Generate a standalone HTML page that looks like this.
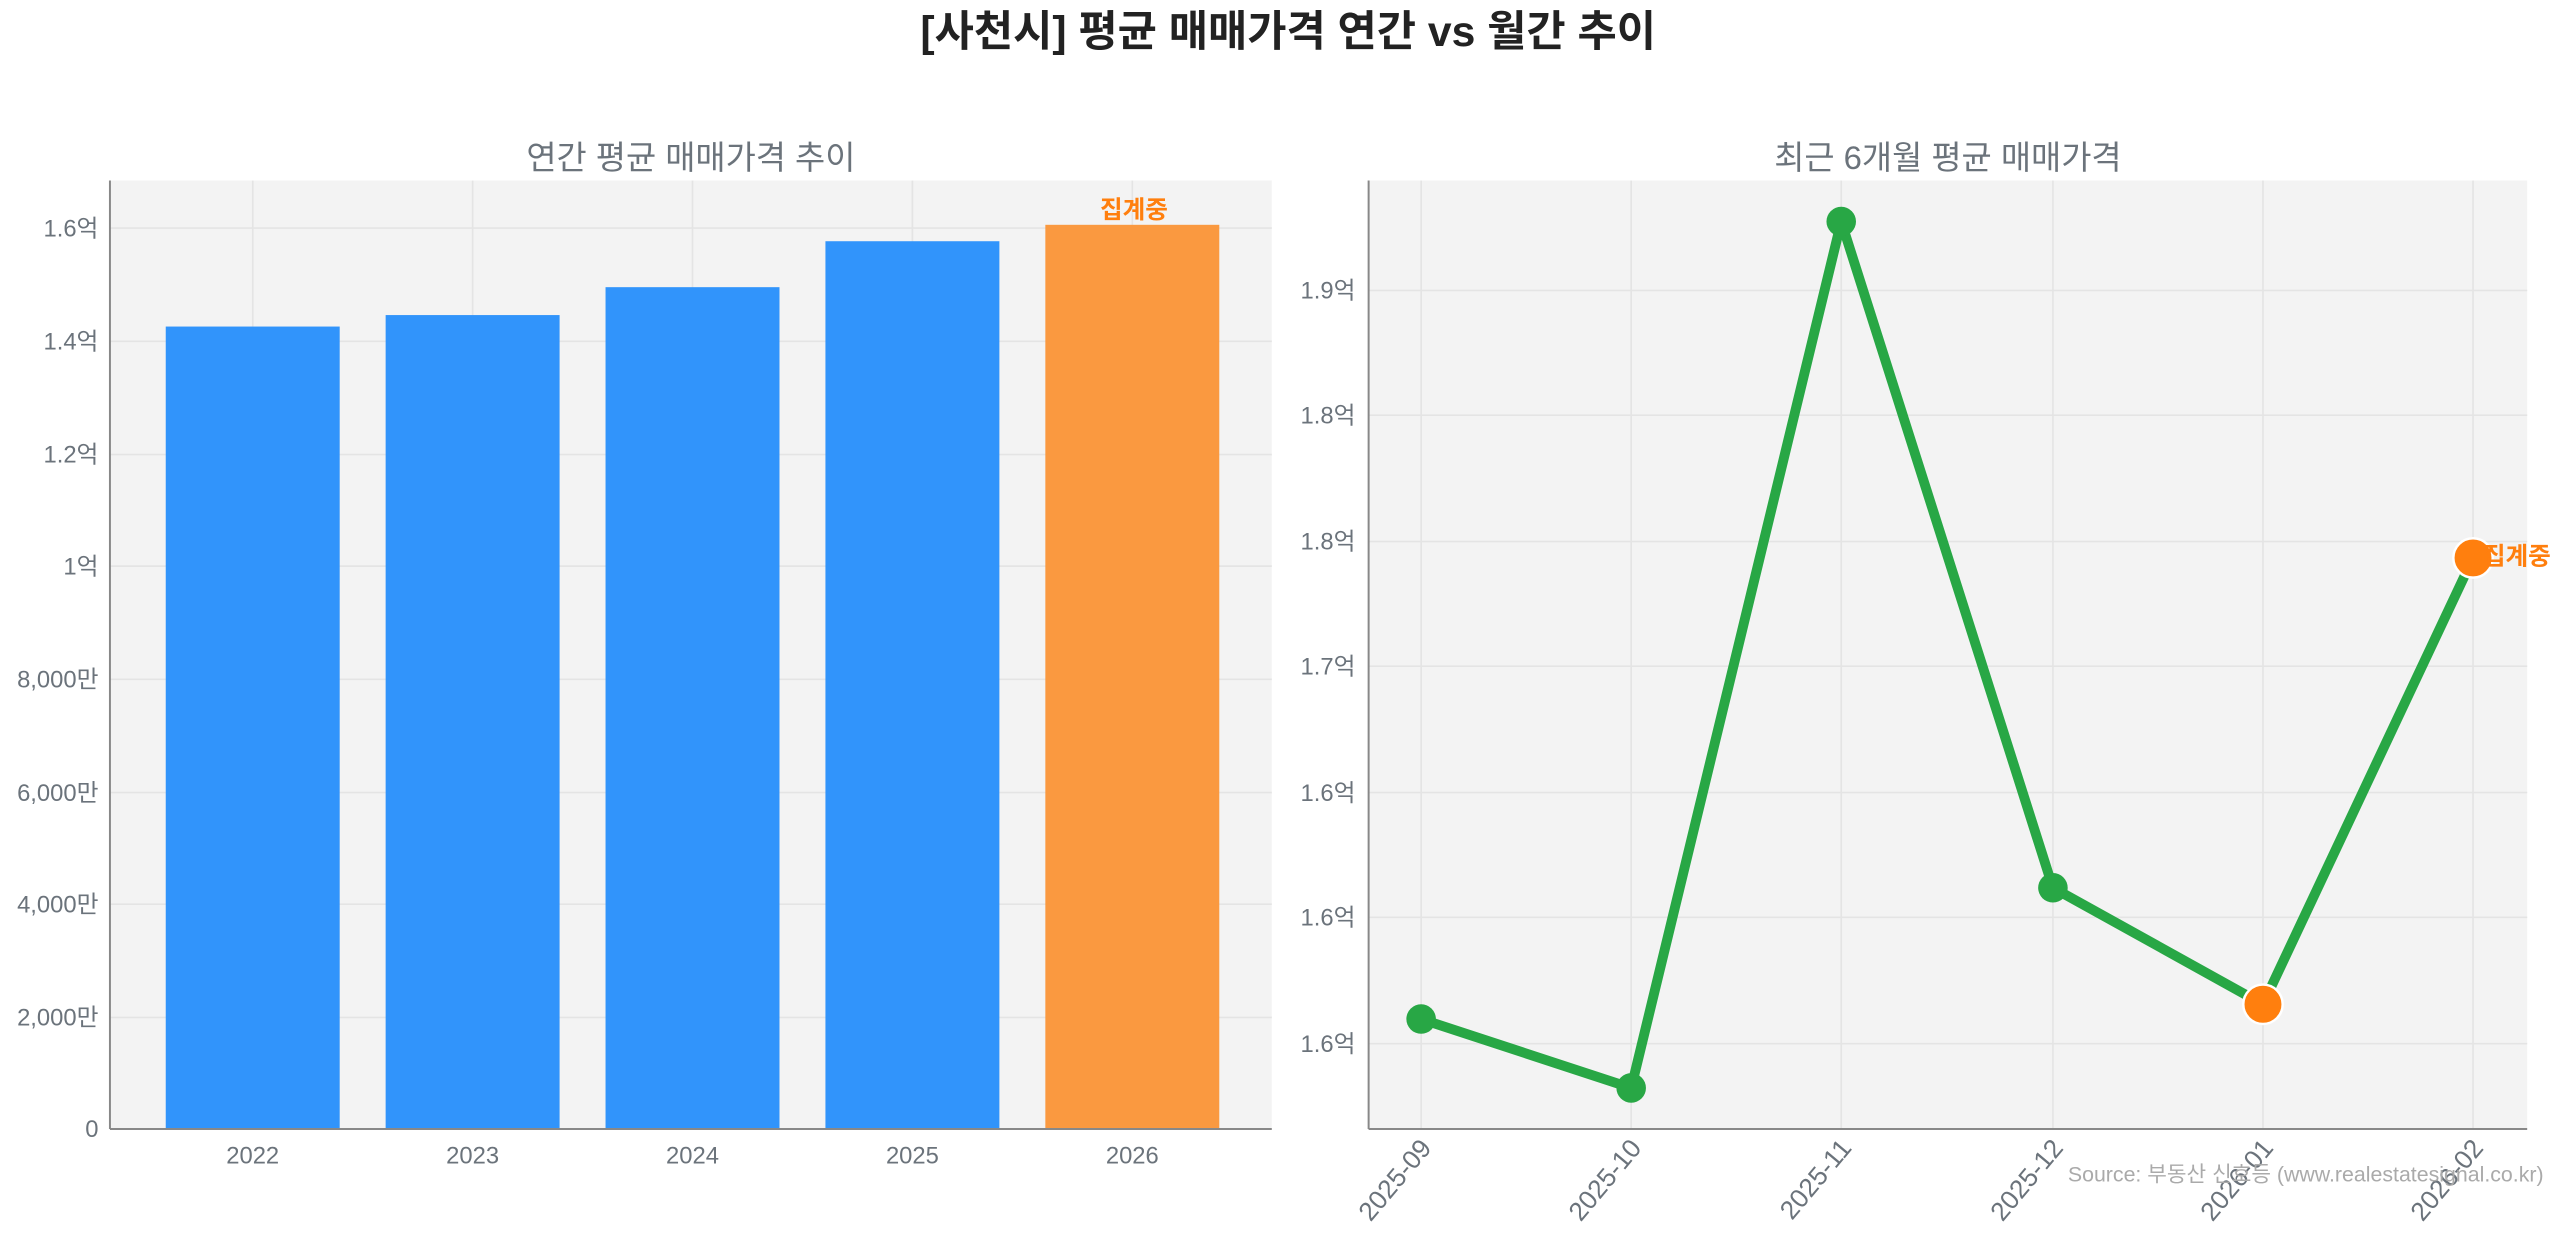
<!DOCTYPE html>
<html><head><meta charset="utf-8"><style>
html,body{margin:0;padding:0;background:#fff;width:2560px;height:1234px;overflow:hidden}
svg{display:block}
text{font-family:"Liberation Sans","Noto Sans CJK KR",sans-serif}
</style></head><body>
<svg width="2560" height="1234" viewBox="0 0 1560 752" preserveAspectRatio="none" xmlns="http://www.w3.org/2000/svg">
<text x="785" y="28" text-anchor="middle" font-size="26" font-weight="bold" fill="#222">[사천시] 평균 매매가격 연간 vs 월간 추이</text>
<!-- left -->
<text x="421" y="103" text-anchor="middle" font-size="20" fill="#6b737b">연간 평균 매매가격 추이</text>
<rect x="67" y="110" width="708" height="578" fill="#f3f3f3"/>
<g stroke="#e4e4e4" stroke-width="1">
<line x1="154" y1="110" x2="154" y2="688"/><line x1="288" y1="110" x2="288" y2="688"/><line x1="422" y1="110" x2="422" y2="688"/><line x1="556" y1="110" x2="556" y2="688"/><line x1="690" y1="110" x2="690" y2="688"/>
<line x1="67" y1="620" x2="775" y2="620"/><line x1="67" y1="551" x2="775" y2="551"/><line x1="67" y1="483" x2="775" y2="483"/><line x1="67" y1="414" x2="775" y2="414"/><line x1="67" y1="345" x2="775" y2="345"/><line x1="67" y1="277" x2="775" y2="277"/><line x1="67" y1="208" x2="775" y2="208"/><line x1="67" y1="139" x2="775" y2="139"/>
</g>
<g fill="#3194fb">
<rect x="101" y="199" width="106" height="489"/><rect x="235" y="192" width="106" height="496"/><rect x="369" y="175" width="106" height="513"/><rect x="503" y="147" width="106" height="541"/>
</g>
<rect x="637" y="137" width="106" height="551" fill="#fa9940"/>
<text x="691" y="133" text-anchor="middle" font-size="15" font-weight="bold" fill="#ff7f0e">집계중</text>
<line x1="67" y1="110" x2="67" y2="688" stroke="#888" stroke-width="1.2"/>
<line x1="67" y1="688" x2="775" y2="688" stroke="#888" stroke-width="1.2"/>
<g font-size="14.5" fill="#6b737b" text-anchor="end">
<text x="60" y="693">0</text><text x="60" y="625">2,000만</text><text x="60" y="556">4,000만</text><text x="60" y="488">6,000만</text><text x="60" y="419">8,000만</text><text x="60" y="350">1억</text><text x="60" y="282">1.2억</text><text x="60" y="213">1.4억</text><text x="60" y="144">1.6억</text>
</g>
<g font-size="14.5" fill="#6b737b" text-anchor="middle">
<text x="154" y="709">2022</text><text x="288" y="709">2023</text><text x="422" y="709">2024</text><text x="556" y="709">2025</text><text x="690" y="709">2026</text>
</g>
<!-- right -->
<text x="1187" y="103" text-anchor="middle" font-size="20" fill="#6b737b">최근 6개월 평균 매매가격</text>
<rect x="834" y="110" width="706" height="578" fill="#f3f3f3"/>
<g stroke="#e4e4e4" stroke-width="1">
<line x1="866" y1="110" x2="866" y2="688"/><line x1="994" y1="110" x2="994" y2="688"/><line x1="1122" y1="110" x2="1122" y2="688"/><line x1="1251" y1="110" x2="1251" y2="688"/><line x1="1379" y1="110" x2="1379" y2="688"/><line x1="1507" y1="110" x2="1507" y2="688"/>
<line x1="834" y1="177" x2="1540" y2="177"/><line x1="834" y1="253" x2="1540" y2="253"/><line x1="834" y1="330" x2="1540" y2="330"/><line x1="834" y1="406" x2="1540" y2="406"/><line x1="834" y1="483" x2="1540" y2="483"/><line x1="834" y1="559" x2="1540" y2="559"/><line x1="834" y1="636" x2="1540" y2="636"/>
</g>
<polyline points="866,621 994,663 1122,135 1251,541 1379,612 1507,340" fill="none" stroke="#28a745" stroke-width="6" stroke-linejoin="round"/>
<g fill="#28a745"><circle cx="866" cy="621" r="9"/><circle cx="994" cy="663" r="9"/><circle cx="1122" cy="135" r="9"/><circle cx="1251" cy="541" r="9"/></g>
<g fill="#ff7f0e" stroke="#fff" stroke-width="1.5"><circle cx="1379" cy="612" r="12"/><circle cx="1507" cy="340" r="12"/></g>
<text x="1513" y="344" font-size="15" font-weight="bold" fill="#ff7f0e">집계중</text>
<line x1="834" y1="110" x2="834" y2="688" stroke="#888" stroke-width="1.2"/>
<line x1="834" y1="688" x2="1540" y2="688" stroke="#888" stroke-width="1.2"/>
<g font-size="14.5" fill="#6b737b" text-anchor="end">
<text x="826" y="182">1.9억</text><text x="826" y="258">1.8억</text><text x="826" y="335">1.8억</text><text x="826" y="411">1.7억</text><text x="826" y="488">1.6억</text><text x="826" y="564">1.6억</text><text x="826" y="641">1.6억</text>
</g>
<g font-size="16" fill="#6b737b" text-anchor="end">
<text transform="translate(873,700) rotate(-50)">2025-09</text>
<text transform="translate(1001,700) rotate(-50)">2025-10</text>
<text transform="translate(1129,700) rotate(-50)">2025-11</text>
<text transform="translate(1258,700) rotate(-50)">2025-12</text>
<text transform="translate(1386,700) rotate(-50)">2026-01</text>
<text transform="translate(1514,700) rotate(-50)">2026-02</text>
</g>
<text x="1550" y="720" text-anchor="end" font-size="13" fill="#aaa">Source: 부동산 신호등 (www.realestatesignal.co.kr)</text>
</svg>
</body></html>
